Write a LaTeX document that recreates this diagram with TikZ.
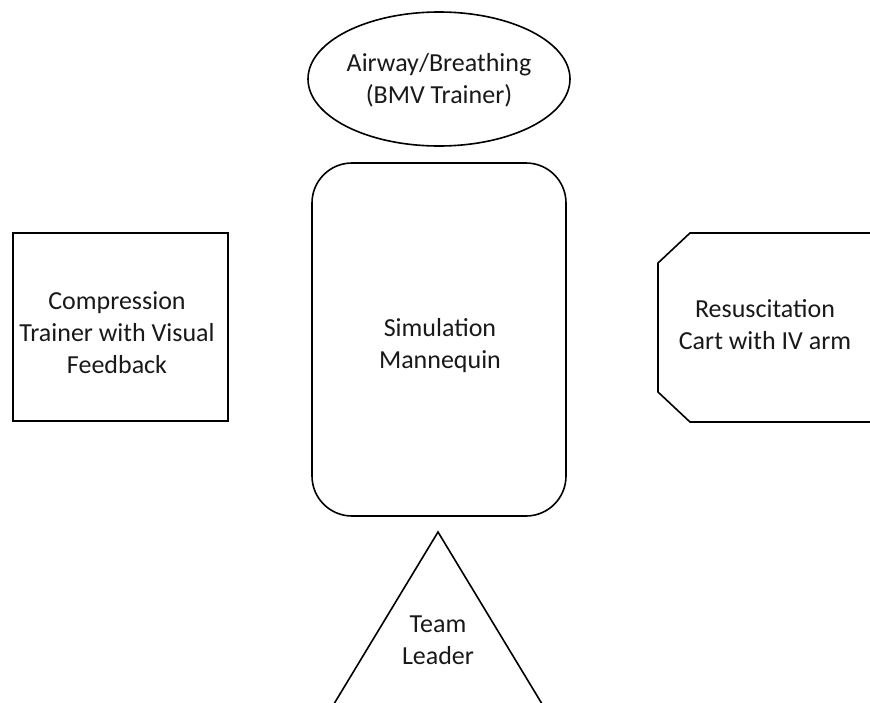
\documentclass[tikz,border=0pt]{standalone}
\usepackage{fontspec}
\setmainfont{Carlito}
\usetikzlibrary{shapes.geometric}
\begin{document}
\begin{tikzpicture}[x=1pt,y=-1pt,
  outl/.style={draw=black,line width=1.6pt},
  lbl/.style={align=center,font=\fontsize{26}{32}\selectfont,text=black!90,inner sep=0pt}]
\clip (0,0) rectangle (870,702);
\useasboundingbox (0,0) rectangle (870,702);
% Airway ellipse
\node[outl,ellipse,minimum width=262pt,minimum height=134pt] (air) at (439,79) {};
\node[lbl] (airt) at (439,80) {Airway/Breathing\\(BMV Trainer)};
% Mannequin
\draw[outl,rounded corners=40pt] (312,163) rectangle (566,516);
\node[lbl] (man) at (440,346) {Simulation\\Mannequin};
% Compression trainer
\draw[outl] (13,233) rectangle (228,421);
\node[lbl] (comp) at (117,333) {Compression\\Trainer with Visual\\Feedback};
% Resuscitation cart
\draw[outl] (880,233) -- (690,233) -- (658,263) -- (658,392) -- (690,422) -- (880,422);
\node[lbl] (cart) at (765,325) {Resuscitation\\Cart with IV arm};
% Team leader triangle
\draw[outl] (438,532) -- (320,727) -- (556,727) -- cycle;
\node[lbl] (team) at (438,640) {Team\\Leader};
\end{tikzpicture}
\end{document}
